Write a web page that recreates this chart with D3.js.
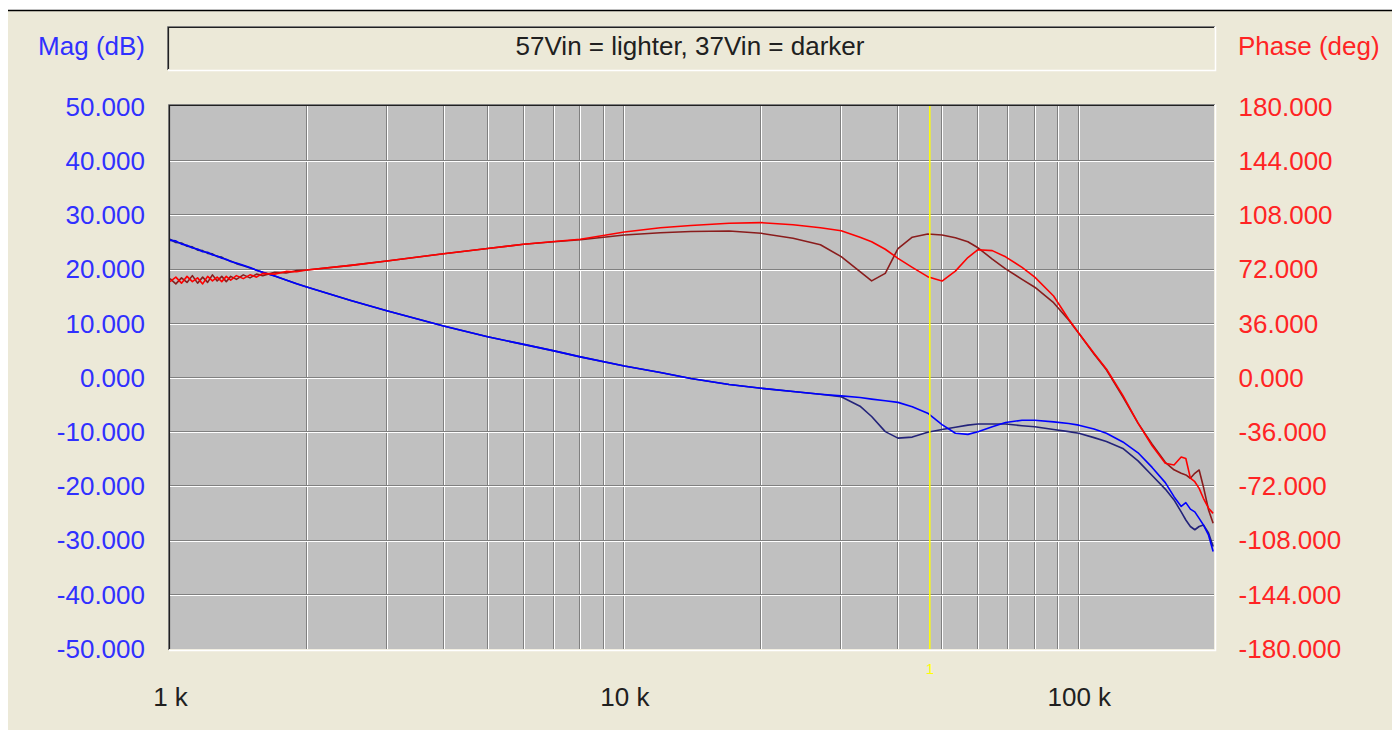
<!DOCTYPE html>
<html>
<head>
<meta charset="utf-8">
<script src="https://cdn.jsdelivr.net/npm/d3@7"></script>
<style>
  body { margin: 0; background: #fff; }
  svg text { font-family: "Liberation Sans", Arial, sans-serif; }
</style>
</head>
<body>
<svg id="chart" width="1398" height="730"></svg>
<script>
// DATA //

const freqKHz = [1, 1.03, 1.06, 1.09, 1.12, 1.15, 1.18, 1.21, 1.24, 1.27, 1.3, 1.33, 1.36, 1.4, 1.45, 1.5, 1.55, 1.6, 1.7, 1.8, 1.9, 2,
  2.5, 3, 4, 5, 6, 7, 8, 10, 12, 14, 17, 20, 23.5, 27, 30, 33, 35, 37.5, 40, 43, 46.5, 50,
  53.5, 57, 60, 64.5, 69, 75, 80, 88, 95, 100, 108, 115, 125, 135, 145, 155, 162, 168, 172, 176,
  180, 184, 188, 193, 197.5]

// 57Vin (lighter)
const magLight = [25.4, 25.3, 24.7, 24.5, 24.0, 23.8, 23.3, 23.2, 22.7, 22.5, 22.1, 21.9, 21.5, 21.2, 20.8, 20.4, 19.9, 19.5, 18.8, 18.1, 17.4, 16.8,
  14.3, 12.4, 9.6, 7.6, 6.2, 5.0, 3.9, 2.2, 1.0, -0.1, -1.2, -1.9, -2.5, -3.0, -3.3, -3.6, -3.9, -4.2, -4.5, -5.3, -6.5, -8.6,
  -10.2, -10.4, -9.9, -9.0, -8.2, -7.8, -7.8, -8.1, -8.4, -8.7, -9.4, -10.2, -11.8, -13.8, -16.5, -19.3, -21.9, -23.7, -23.0, -24.2,
  -24.7, -25.9, -27.1, -29.0, -32.0]

// 37Vin (darker)
const magDark = [25.6, 25.0, 24.9, 24.3, 24.2, 23.6, 23.5, 23.0, 22.9, 22.4, 22.3, 21.8, 21.6, 21.1, 20.7, 20.3, 19.9, 19.5, 18.8, 18.1, 17.4, 16.8,
  14.3, 12.4, 9.6, 7.6, 6.2, 5.0, 3.9, 2.2, 1.0, -0.1, -1.2, -1.9, -2.5, -3.0, -3.45, -5.2, -7.1, -9.9, -11.1, -10.9, -10.0, -9.5,
  -9.1, -8.7, -8.5, -8.5, -8.5, -8.8, -9.0, -9.5, -9.9, -10.2, -11.0, -11.7, -13.0, -15.3, -18.0, -20.5, -22.5, -24.7, -26.2, -27.4,
  -28.0, -27.4, -27.1, -28.6, -31.1]

const phaseLight = [64, 67, 63, 67.5, 64, 66.5, 62.5, 67.5, 64.5, 67, 64, 67.5, 65, 68, 66, 68.5, 67, 69.5, 69, 70.8, 70.6, 71.7,
  74.8, 77.7, 82.5, 86, 88.8, 90.7, 92.2, 97, 99.8, 101.3, 102.8, 103.2, 101.8, 99.8, 97.8, 93.5, 90.5, 85.5, 79.5, 73.5, 67.3, 64.4,
  71, 80, 85.2, 84.6, 80.5, 73.5, 67, 54.5, 39, 29.7, 16.5, 6, -11.5, -30, -45, -56.6, -57.8, -52.5, -53.5, -66.5,
  -68.9, -73.3, -79.9, -86.5, -89.9]

const phaseDark = [66, 62.5, 66.5, 63.5, 68, 63, 67, 63.5, 68.5, 64.5, 67.5, 64, 67.5, 65.5, 68.5, 66.5, 69, 68, 70.2, 69.8, 71.3, 71.7,
  74.8, 77.7, 82.5, 86, 88.8, 90.5, 91.8, 95, 96.5, 97.3, 97.6, 96.1, 92.8, 88.5, 80.6, 70.6, 64.5, 69.5, 86, 93.5, 95.6, 95,
  93.2, 90.5, 86.5, 79, 72.5, 65.5, 60.3, 50, 38.5, 29.7, 16, 5.5, -12.5, -30, -44, -56, -61, -63.3, -64.4, -66.6,
  -63.3, -61.1, -72.2, -87.7, -96.5]

const magTicks = [50, 40, 30, 20, 10, 0, -10, -20, -30, -40, -50]
const phaseTicks = [180, 144, 108, 72, 36, 0, -36, -72, -108, -144, -180]
const freqTicks = [1000, 10000, 100000]
const freqTickLabels = ["1 k", "10 k", "100 k"]
const cursorFreq = [47000]
const cursorLabels = ["1"]
const titleText = "57Vin = lighter, 37Vin = darker"

// LAYOUT //

const svg = d3.select('#chart')
const plotLeft = 170, plotRight = 1215.6, plotTop = 107, plotBottom = 649
const blue = '#3030ff', red = '#ff2424'
const fontSize = 26

svg.append('rect').attr('x', 0).attr('y', 0).attr('width', 1398).attr('height', 730).attr('fill', '#fff')
svg.append('rect').attr('x', 8).attr('y', 10).attr('width', 1384).attr('height', 720).attr('fill', '#ece9d8')
svg.append('line').attr('x1', 8).attr('x2', 1392).attr('y1', 10.5).attr('y2', 10.5).attr('stroke', '#000').attr('stroke-width', 1.5)

// sunken box helper
function sunkenBox(x0, y0, x1, y1, fill){
    svg.append('rect').attr('x', x0).attr('y', y0).attr('width', x1 - x0).attr('height', y1 - y0).attr('fill', fill)
    svg.append('path').attr('d', `M${x0 - 1.5},${y1 + 1} V${y0 - 1.5} H${x1 + 1}`).attr('fill', 'none').attr('stroke', '#808080').attr('stroke-width', 1)
    svg.append('path').attr('d', `M${x0 - 0.5},${y1} V${y0 - 0.5} H${x1}`).attr('fill', 'none').attr('stroke', '#202020').attr('stroke-width', 1.2)
    svg.append('path').attr('d', `M${x0 - 1},${y1 + 1.5} H${x1 + 1.5} V${y0 - 1.5}`).attr('fill', 'none').attr('stroke', '#ffffff').attr('stroke-width', 1.5)
}

// title box
sunkenBox(169, 28, 1214, 69, '#ece9d8')
svg.append('text').attr('x', 690).attr('y', 46).attr('text-anchor', 'middle').attr('dominant-baseline', 'central')
   .attr('font-size', fontSize).attr('fill', '#202020').text(titleText)

svg.append('text').attr('x', 145).attr('y', 46).attr('text-anchor', 'end').attr('dominant-baseline', 'central')
   .attr('font-size', fontSize).attr('fill', blue).text('Mag (dB)')
svg.append('text').attr('x', 1238).attr('y', 46).attr('dominant-baseline', 'central')
   .attr('font-size', fontSize).attr('fill', red).text('Phase (deg)')

// plot box
sunkenBox(plotLeft, 106, 1214, plotBottom, '#c0c0c0')

// SCALES //

let x = d3.scaleLog().domain([1000, 200000]).range([plotLeft, plotRight])
let yMag = d3.scaleLinear().domain([-50, 50]).range([plotBottom, plotTop])
let yPh = d3.scaleLinear().domain([-180, 180]).range([plotBottom, plotTop])

// GRID //

const grid = svg.append('g')
const vTicks = x.ticks().filter(d => d > 1000 && d < 200000)
vTicks.forEach(d => {
    const px = Math.round(x(d))
    grid.append('line').attr('x1', px - 0.5).attr('x2', px - 0.5).attr('y1', 106).attr('y2', plotBottom).attr('stroke', '#808080')
    grid.append('line').attr('x1', px + 0.5).attr('x2', px + 0.5).attr('y1', 106).attr('y2', plotBottom).attr('stroke', '#ffffff')
})
magTicks.filter(d => d > -50 && d < 50).forEach(d => {
    const py = Math.round(yMag(d))
    grid.append('line').attr('x1', plotLeft).attr('x2', 1214).attr('y1', py - 0.5).attr('y2', py - 0.5).attr('stroke', '#808080')
    grid.append('line').attr('x1', plotLeft).attr('x2', 1214).attr('y1', py + 0.5).attr('y2', py + 0.5).attr('stroke', '#ffffff')
})

// AXES //

function styleAxis(g, color){
    g.select('.domain').remove()
    g.selectAll('.tick line').remove()
    g.selectAll('text').attr('font-size', fontSize).attr('fill', color)
        .attr('font-family', '"Liberation Sans", Arial, sans-serif')
}

const fmt3 = d => d.toFixed(3)

svg.append('g').attr('transform', `translate(${plotLeft},0)`)
   .call(d3.axisLeft(yMag).tickValues(magTicks).tickFormat(fmt3).tickSize(0).tickPadding(25))
   .call(g => styleAxis(g, blue))

svg.append('g').attr('transform', `translate(${plotRight},0)`)
   .call(d3.axisRight(yPh).tickValues(phaseTicks).tickFormat(fmt3).tickSize(0).tickPadding(23))
   .call(g => styleAxis(g, red))

svg.append('g').attr('transform', `translate(0,${plotBottom})`)
   .call(d3.axisBottom(x).tickValues(freqTicks).tickFormat((d, i) => freqTickLabels[i]).tickSize(0).tickPadding(39))
   .call(g => styleAxis(g, '#202020'))

// CURVES //

svg.append('clipPath').attr('id', 'plotClip')
   .append('rect').attr('x', plotLeft).attr('y', 106).attr('width', 1214 - plotLeft).attr('height', plotBottom - 106)

const curves = svg.append('g').attr('clip-path', 'url(#plotClip)')

function drawSeries(values, yScale, color){
    const pts = freqKHz.map((f, i) => [f * 1000, values[i]])
    curves.append('path')
        .datum(pts)
        .attr('fill', 'none')
        .attr('stroke', color)
        .attr('stroke-width', 1.6)
        .attr('stroke-linejoin', 'round')
        .attr('d', d3.line().x(d => x(d[0])).y(d => yScale(d[1])))
}

drawSeries(magDark, yMag, '#23237a')
drawSeries(magLight, yMag, '#0000ff')
drawSeries(phaseDark, yPh, '#8a1c1c')
drawSeries(phaseLight, yPh, '#ff0000')

// CURSOR //

cursorFreq.forEach((f, i) => {
    const cx = x(f)
    svg.append('line').attr('x1', cx).attr('x2', cx).attr('y1', 106).attr('y2', plotBottom)
       .attr('stroke', '#ffff00').attr('stroke-width', 1.5)
    svg.append('text').attr('x', cx).attr('y', 668).attr('text-anchor', 'middle').attr('dominant-baseline', 'central')
       .attr('font-size', 15).attr('fill', '#ffff00').text(cursorLabels[i])
})
</script>
</body>
</html>
